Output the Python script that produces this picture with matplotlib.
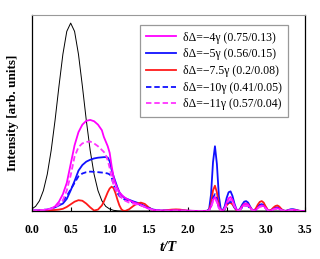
"""Pulse intensity vs t/T for several detunings."""

from __future__ import annotations
import numpy as np
import matplotlib
matplotlib.use("Agg")
import matplotlib.pyplot as plt

# input pulse (black), own time axis
t_input = [0.0, 0.05, 0.1, 0.15, 0.2, 0.25, 0.3, 0.35, 0.4, 0.45, 0.5, 0.55, 0.6,
           0.65, 0.7, 0.75, 0.8, 0.85, 0.9, 0.95, 1.0, 1.05, 1.1, 1.15, 1.2, 3.5]
input_pulse = [0.011, 0.025, 0.055, 0.109, 0.196, 0.323, 0.484, 0.665, 0.834, 0.956, 1.0, 0.956, 0.834,
               0.665, 0.484, 0.323, 0.196, 0.109, 0.055, 0.025, 0.011, 0.004, 0.0015, 0.0005, 0.0, 0.0]

# shared time grid for transmitted pulses: coarse, fine near t=1, coarse, fine for the ringing
t_grid = np.round(np.concatenate([
    np.arange(0.0, 0.901, 0.05),
    np.arange(0.925, 1.201, 0.025),
    np.arange(1.25, 2.201, 0.05),
    np.arange(2.225, 3.501, 0.025),
]), 3)

labels = [
    "δΔ=−4γ (0.75/0.13)",
    "δΔ=−5γ (0.56/0.15)",
    "δΔ=−7.5γ (0.2/0.08)",
    "δΔ=−10γ (0.41/0.05)",
    "δΔ=−11γ (0.57/0.04)",
]

det_4 = (
    [0.002, 0.003, 0.004, 0.006, 0.008, 0.013, 0.025, 0.05, 0.09, 0.15, 0.25, 0.35, 0.42, 0.46, 0.48, 0.485, 0.478, 0.46, 0.43]
    + [0.395, 0.37, 0.345, 0.31, 0.24, 0.18, 0.145, 0.12, 0.10, 0.088, 0.078, 0.07]
    + [0.058, 0.048, 0.04, 0.032, 0.022, 0.013, 0.007, 0.004, 0.003, 0.003, 0.003, 0.004, 0.004, 0.004, 0.003, 0.002, 0.002, 0.001, 0.001, 0.001]
    + [0.001, 0.001, 0.004, 0.025, 0.06, 0.075, 0.055, 0.02, 0.004, 0.002, 0.015, 0.045,
       0.068, 0.075, 0.06, 0.03, 0.008, 0.002, 0.01, 0.025, 0.037, 0.04, 0.034, 0.02,
       0.007, 0.002, 0.006, 0.017, 0.026, 0.03, 0.027, 0.017, 0.006, 0.001, 0.004, 0.01,
       0.014, 0.015, 0.012, 0.006, 0.002, 0.001, 0.002, 0.004, 0.006, 0.006, 0.005, 0.003,
       0.001, 0.001, 0.001, 0.001]
)
det_5 = (
    [0.002, 0.003, 0.004, 0.006, 0.008, 0.012, 0.02, 0.03, 0.04, 0.065, 0.11, 0.16, 0.215, 0.245, 0.263, 0.273, 0.28, 0.284, 0.286]
    + [0.287, 0.287, 0.285, 0.265, 0.22, 0.185, 0.155, 0.125, 0.1, 0.085, 0.075, 0.068]
    + [0.06, 0.052, 0.045, 0.037, 0.027, 0.017, 0.009, 0.005, 0.003, 0.003, 0.003, 0.003, 0.003, 0.003, 0.002, 0.002, 0.001, 0.001, 0.001, 0.001]
    + [0.001, 0.002, 0.01, 0.09, 0.26, 0.345, 0.25, 0.08, 0.01, 0.004, 0.025, 0.07,
       0.1, 0.105, 0.08, 0.04, 0.01, 0.003, 0.015, 0.035, 0.05, 0.053, 0.045, 0.025,
       0.008, 0.002, 0.01, 0.024, 0.034, 0.037, 0.032, 0.02, 0.007, 0.001, 0.005, 0.013,
       0.019, 0.02, 0.016, 0.009, 0.003, 0.001, 0.003, 0.007, 0.01, 0.01, 0.008, 0.005,
       0.002, 0.001, 0.001, 0.001]
)
det_7_5 = (
    [0.001, 0.001, 0.002, 0.003, 0.004, 0.005, 0.006, 0.008, 0.012, 0.022, 0.036, 0.05, 0.058, 0.055, 0.04, 0.02, 0.003, 0.008, 0.03]
    + [0.05, 0.075, 0.1, 0.12, 0.13, 0.122, 0.095, 0.06, 0.03, 0.01, 0.002, 0.001]
    + [0.01, 0.026, 0.04, 0.045, 0.038, 0.02, 0.006, 0.002, 0.001, 0.003, 0.006, 0.008, 0.009, 0.008, 0.005, 0.002, 0.001, 0.001, 0.001, 0.001]
    + [0.001, 0.001, 0.006, 0.04, 0.11, 0.135, 0.1, 0.03, 0.003, 0.002, 0.012, 0.03,
       0.042, 0.044, 0.035, 0.018, 0.005, 0.002, 0.01, 0.025, 0.037, 0.04, 0.035, 0.02,
       0.006, 0.002, 0.015, 0.035, 0.049, 0.053, 0.045, 0.025, 0.008, 0.002, 0.008, 0.019,
       0.027, 0.03, 0.024, 0.012, 0.003, 0.001, 0.002, 0.004, 0.006, 0.007, 0.006, 0.004,
       0.002, 0.001, 0.001, 0.001]
)
det_10 = (
    [0.002, 0.003, 0.004, 0.006, 0.009, 0.014, 0.022, 0.035, 0.055, 0.08, 0.115, 0.15, 0.185, 0.2, 0.207, 0.21, 0.209, 0.207, 0.205]
    + [0.204, 0.202, 0.2, 0.195, 0.18, 0.14, 0.115, 0.095, 0.08, 0.072, 0.065, 0.06]
    + [0.052, 0.045, 0.038, 0.031, 0.023, 0.016, 0.009, 0.005, 0.003, 0.002, 0.002, 0.002, 0.002, 0.002, 0.002, 0.001, 0.001, 0.001, 0.001, 0.001]
    + [0.001, 0.001, 0.004, 0.025, 0.07, 0.09, 0.065, 0.02, 0.003, 0.002, 0.01, 0.03,
       0.046, 0.05, 0.04, 0.02, 0.005, 0.001, 0.008, 0.02, 0.028, 0.03, 0.026, 0.015,
       0.004, 0.001, 0.008, 0.02, 0.028, 0.03, 0.026, 0.015, 0.004, 0.001, 0.004, 0.01,
       0.014, 0.015, 0.012, 0.006, 0.002, 0.001, 0.002, 0.004, 0.006, 0.006, 0.005, 0.003,
       0.001, 0.001, 0.001, 0.001]
)
det_11 = (
    [0.002, 0.003, 0.004, 0.006, 0.009, 0.013, 0.02, 0.035, 0.057, 0.11, 0.19, 0.29, 0.34, 0.36, 0.368, 0.37, 0.36, 0.345, 0.325]
    + [0.315, 0.3, 0.27, 0.23, 0.18, 0.14, 0.115, 0.1, 0.085, 0.072, 0.062, 0.055]
    + [0.045, 0.04, 0.035, 0.03, 0.022, 0.013, 0.007, 0.004, 0.003, 0.002, 0.002, 0.002, 0.002, 0.002, 0.002, 0.001, 0.001, 0.001, 0.001, 0.001]
    + [0.001, 0.001, 0.003, 0.02, 0.05, 0.065, 0.048, 0.015, 0.003, 0.002, 0.012, 0.035,
       0.055, 0.06, 0.048, 0.024, 0.006, 0.001, 0.007, 0.018, 0.027, 0.03, 0.026, 0.015,
       0.005, 0.001, 0.006, 0.015, 0.022, 0.025, 0.022, 0.013, 0.004, 0.001, 0.003, 0.008,
       0.011, 0.012, 0.01, 0.005, 0.002, 0.001, 0.002, 0.003, 0.005, 0.005, 0.004, 0.002,
       0.001, 0.001, 0.001, 0.001]
)

x_ticks = [0.0, 0.5, 1.0, 1.5, 2.0, 2.5, 3.0, 3.5]

SERIF = ["Liberation Serif", "DejaVu Serif"]


def main() -> None:
    plt.rcParams["font.family"] = SERIF
    fig = plt.figure(figsize=(3.2, 2.59), dpi=100)
    ax = fig.add_axes([0.099, 0.185, 0.853, 0.757])

    ax.plot(t_input, input_pulse, color="black", lw=0.7)
    dash = (0, (3.0, 1.6))
    styles = [
        (det_5, "#1010ff", "-", labels[1]),
        (det_7_5, "#ff1a1a", "-", labels[2]),
        (det_10, "#1010ff", dash, labels[3]),
        (det_4, "#ff00ff", "-", labels[0]),
        (det_11, "#ff33ff", dash, labels[4]),
    ]
    handles = {}
    for vals, color, ls, lab in styles:
        assert len(vals) == len(t_grid), lab
        (h,) = ax.plot(t_grid, vals, color=color, ls=ls, lw=1.3, label=lab)
        handles[lab] = h

    ax.set_xlim(0, 3.5)
    ax.set_ylim(0, 1.043)
    ax.set_xticks(x_ticks)
    ax.set_xticklabels([f"{v:.1f}" for v in x_ticks], fontsize=8.5, fontweight="bold")
    ax.set_yticks([])
    ax.tick_params(axis="x", direction="in", length=3, width=0.8, pad=9)
    ax.set_xlabel("t/T", fontsize=10.5, fontweight="bold", style="italic", labelpad=4)
    ax.set_ylabel("Intensity [arb. units]", fontsize=9.5, fontweight="bold", labelpad=9)
    ax.spines["top"].set_color("#999999")
    for s in ("left", "right", "bottom"):
        ax.spines[s].set_linewidth(0.9)

    leg = ax.legend([handles[l] for l in labels], labels, loc="upper right",
                    bbox_to_anchor=(0.939, 0.949), borderaxespad=0, fontsize=8.5,
                    fancybox=False, edgecolor="#999999", framealpha=1,
                    handlelength=2.5, handletextpad=0.6, labelspacing=0.40,
                    borderpad=0.55)
    leg.get_frame().set_linewidth(0.9)

    fig.savefig("out.png", dpi=100)
    plt.close(fig)


if __name__ == "__main__":
    main()
